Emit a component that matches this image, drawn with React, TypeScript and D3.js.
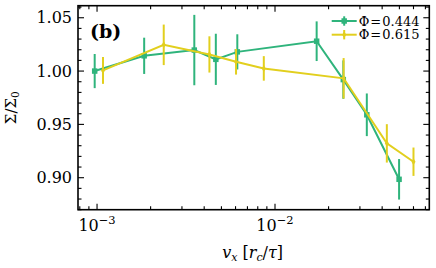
import React, { useEffect, useRef } from 'react';
import * as d3 from 'd3';

// velocity (x) and normalized stress for the two packing fractions
const velA = [0.00097, 0.00184, 0.00352, 0.00465, 0.00614, 0.01714, 0.0242, 0.0328, 0.0498];
const sigA = [1.0, 1.0143, 1.0197, 1.011, 1.018, 1.028, 0.992, 0.959, 0.8985];
const errA = [0.016, 0.017, 0.033, 0.024, 0.0165, 0.0186, 0.018, 0.02, 0.019];

const velB = [0.00108, 0.00237, 0.00428, 0.00604, 0.00865, 0.0243, 0.0425, 0.06];
const sigB = [1.0006, 1.0246, 1.0156, 1.0087, 1.0025, 0.9932, 0.9322, 0.915];
const errB = [0.0126, 0.019, 0.017, 0.012, 0.0115, 0.019, 0.018, 0.0133];

const seriesLabels = ['0.444', '0.615'];
const yTicks = [0.9, 0.95, 1.0, 1.05];
const xTickExps = [-3, -2];

const GREEN = '#2fb47c';
const YELLOW = '#e2cf1e';
const FONT = 'DejaVu Serif, serif';

const App = () => {
  const svgRef = useRef(null);

  useEffect(() => {
    const svg = d3.select(svgRef.current);
    svg.selectAll('*').remove();

    const W = 436;
    const H = 268;
    const margin = { top: 5.7, right: 6.7, bottom: 58.3, left: 78 };
    const width = W - margin.left - margin.right;
    const height = H - margin.top - margin.bottom;

    const x = d3.scaleLog().domain([Math.pow(10, -3.107), Math.pow(10, -1.133)]).range([0, width]);
    const y = d3.scaleLinear().domain([0.87, 1.0613]).range([height, 0]);

    svg.attr('width', W).attr('height', H);
    const g = svg.append('g').attr('transform', `translate(${margin.left},${margin.top})`);

    // ticks (inward, mirrored on all sides)
    const ticks = g.append('g').attr('stroke', '#000').attr('stroke-width', 1.1);
    const minorY = d3.range(87, 107).map((v) => v / 100);
    minorY.forEach((v) => {
      const major = yTicks.some((t) => Math.abs(t - v) < 1e-6);
      const len = major ? 6 : 3.5;
      ticks.append('line').attr('x1', 0).attr('x2', len).attr('y1', y(v)).attr('y2', y(v));
      ticks.append('line').attr('x1', width).attr('x2', width - len).attr('y1', y(v)).attr('y2', y(v));
    });
    const [x0, x1] = x.domain();
    x.ticks().forEach((v) => {
      if (v < x0 || v > x1) return;
      const major = Math.abs(Math.log10(v) - Math.round(Math.log10(v))) < 1e-6;
      const len = major ? 6 : 3.5;
      ticks.append('line').attr('x1', x(v)).attr('x2', x(v)).attr('y1', height).attr('y2', height - len);
      ticks.append('line').attr('x1', x(v)).attr('x2', x(v)).attr('y1', 0).attr('y2', len);
    });

    // tick labels
    yTicks.forEach((v) => {
      g.append('text')
        .attr('x', -6)
        .attr('y', y(v))
        .attr('dy', '0.36em')
        .attr('text-anchor', 'end')
        .attr('font-family', FONT)
        .attr('font-size', 16)
        .text(d3.format('.2f')(v));
    });
    xTickExps.forEach((e) => {
      const t = g.append('text')
        .attr('x', x(Math.pow(10, e)))
        .attr('y', height + 21)
        .attr('text-anchor', 'middle')
        .attr('font-family', FONT)
        .attr('font-size', 16);
      t.append('tspan').text('10');
      t.append('tspan').attr('dy', -7).attr('font-size', 11.5).text(`\u2212${Math.abs(e)}`);
    });

    // axis labels
    const xl = g.append('text')
      .attr('x', width / 2 - 1)
      .attr('y', height + 48)
      .attr('text-anchor', 'middle')
      .attr('font-family', FONT)
      .attr('font-size', 16);
    xl.append('tspan').attr('font-style', 'italic').text('v');
    xl.append('tspan').attr('font-style', 'italic').attr('font-size', 11).attr('dy', 3).text('x');
    xl.append('tspan').attr('dy', -3).text(' [');
    xl.append('tspan').attr('font-style', 'italic').text('r');
    xl.append('tspan').attr('font-style', 'italic').attr('font-size', 11).attr('dy', 3).text('c');
    xl.append('tspan').attr('dy', -3).text('/');
    xl.append('tspan').attr('font-style', 'italic').text('\u03c4');
    xl.append('tspan').text(']');

    const yl = g.append('text')
      .attr('transform', `translate(${-62},${height / 2}) rotate(-90)`)
      .attr('text-anchor', 'middle')
      .attr('font-family', FONT)
      .attr('font-size', 15);
    yl.append('tspan').text('\u03a3/\u03a3');
    yl.append('tspan').attr('font-size', 10.5).attr('dy', 3).text('0');

    // panel tag
    g.append('text')
      .attr('x', 12)
      .attr('y', 32)
      .attr('font-family', FONT)
      .attr('font-weight', 'bold')
      .attr('font-size', 19)
      .text('(b)');

    const line = d3.line().x((d) => x(d[0])).y((d) => y(d[1]));

    const drawSeries = (xs, ys, es, color, marker) => {
      const pts = xs.map((v, i) => [v, ys[i], es[i]]);
      const s = g.append('g');
      s.selectAll('line.err')
        .data(pts)
        .join('line')
        .attr('x1', (d) => x(d[0]))
        .attr('x2', (d) => x(d[0]))
        .attr('y1', (d) => y(d[1] - d[2]))
        .attr('y2', (d) => y(d[1] + d[2]))
        .attr('stroke', color)
        .attr('stroke-width', 2);
      s.append('path')
        .datum(pts)
        .attr('fill', 'none')
        .attr('stroke', color)
        .attr('stroke-width', 2)
        .attr('d', line);
      s.selectAll('path.mk')
        .data(pts)
        .join('path')
        .attr('transform', (d) => `translate(${x(d[0])},${y(d[1])})`)
        .attr('d', marker)
        .attr('fill', color);
    };

    const square = d3.symbol().type(d3.symbolSquare).size(30)();
    const diamond = d3.symbol().type(d3.symbolDiamond).size(14)();

    drawSeries(velA, sigA, errA, GREEN, square);
    drawSeries(velB, sigB, errB, YELLOW, diamond);

    // frame
    g.append('rect')
      .attr('width', width)
      .attr('height', height)
      .attr('fill', 'none')
      .attr('stroke', '#000')
      .attr('stroke-width', 1.6);

    // legend
    const legend = g.append('g').attr('transform', `translate(${253.7},${15.3})`);
    [GREEN, YELLOW].forEach((c, i) => {
      const row = legend.append('g').attr('transform', `translate(0,${i * 13.7})`);
      row.append('line').attr('x1', 0).attr('x2', 25).attr('stroke', c).attr('stroke-width', 2);
      row.append('line').attr('x1', 12.5).attr('x2', 12.5).attr('y1', -4.7).attr('y2', 4.7).attr('stroke', c).attr('stroke-width', 2);
      row.append('path').attr('transform', 'translate(12.5,0)').attr('d', i === 0 ? square : diamond).attr('fill', c);
      const t = row.append('text')
        .attr('x', 27)
        .attr('dy', '0.36em')
        .attr('font-family', FONT)
        .attr('font-size', 13);
      t.append('tspan').text('\u03a6');
      t.append('tspan').attr('dx', 1).text('=');
      t.append('tspan').attr('dx', 1).text(seriesLabels[i]);
    });
  }, []);

  return (
    <div style={{ position: 'absolute', left: 0, top: 0 }}>
      <svg ref={svgRef} style={{ display: 'block' }}></svg>
    </div>
  );
};

export default App;
